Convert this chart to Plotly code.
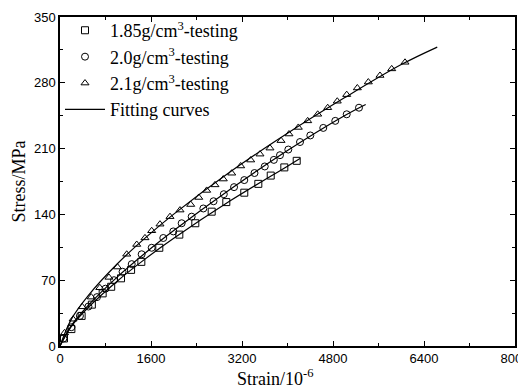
import plotly.graph_objects as go

# Test data (strain in 1e-6, stress in MPa)
sq_strain = [70, 200, 380, 560, 750, 900, 1073, 1250, 1430, 1746, 2098, 2379, 2667, 2924, 3240, 3487, 3705, 3944, 4162]
sq_stress = [8, 18, 32, 44, 56, 63, 72, 81, 89.5, 104.5, 118.5, 130.6, 142.9, 153.1, 163.1, 172.5, 181.3, 190.0, 197.0]

ci_strain = [60, 200, 350, 500, 650, 800, 950, 1100, 1261, 1436, 1612, 1816, 1992, 2139, 2315, 2520, 2700, 2880,
             3060, 3240, 3420, 3600, 3760, 3868, 4014, 4220, 4401, 4629, 4840, 5041, 5257]
ci_stress = [8, 20, 32, 42, 52, 61, 70, 79, 87.1, 97.6, 104.5, 114.9, 121.9, 130.6, 137.6, 146.3, 154, 161.5,
             169, 176.5, 184, 191, 198, 203, 209, 217, 224, 232, 239.5, 246.5, 253.5]

tr_strain = [80, 230, 390, 550, 700, 860, 1010, 1173, 1349, 1494, 1612, 1758, 1934, 2110, 2298, 2440, 2579, 2725,
             2871, 3019, 3177, 3353, 3516, 3692, 3886, 4026, 4190, 4355, 4531, 4707, 4875, 5041, 5228, 5421, 5626,
             5832, 6066]
tr_stress = [14, 28.5, 41.7, 52, 62, 73, 84, 97.6, 108, 115, 122.6, 129.6, 137.6, 144.6, 150.5, 158, 165.5, 171.4,
             177.6, 183.8, 191.5, 197.8, 204.1, 210.5, 218.5, 225.5, 232.5, 239.5, 246.5, 253.5, 260.4, 267.4, 274.5,
             280.8, 287.8, 294.8, 301.8]

# Fitting curves
fit_sq_strain = [0, 200, 500, 1000, 1500, 2000, 3000, 4000, 4220]
fit_sq_stress = [0, 20.9, 41.2, 68.7, 92.7, 114.6, 154.7, 191.3, 199.5]
fit_ci_strain = [0, 200, 500, 1000, 1500, 2000, 3000, 4000, 5000, 5375]
fit_ci_stress = [0, 21.8, 43.4, 73.0, 99.0, 122.8, 167.0, 208.0, 245.0, 257.0]
fit_tr_strain = [0, 200, 500, 1000, 1500, 2000, 3000, 4000, 5000, 6000, 6633]
fit_tr_stress = [0, 28.6, 53.9, 87.0, 115.0, 140.3, 185.6, 226.3, 264.0, 299.4, 318.0]

x_ticks = [0, 1600, 3200, 4800, 6400, 8000]
y_ticks = [0, 70, 140, 210, 280, 350]

labels = ["1.85g/cm<sup>3</sup>-testing", "2.0g/cm<sup>3</sup>-testing", "2.1g/cm<sup>3</sup>-testing"]

fig = go.Figure()
for xs, ys, sym, name, rank in [(sq_strain, sq_stress, "square-open", labels[0], 1),
                                (ci_strain, ci_stress, "circle-open", labels[1], 2),
                                (tr_strain, tr_stress, "triangle-up-open", labels[2], 3)]:
    fig.add_trace(go.Scatter(x=xs, y=ys, mode="markers", name=name, legendrank=rank,
                             marker=dict(symbol=sym, size=7, color="black", line=dict(width=1))))

for i, (xs, ys) in enumerate([(fit_sq_strain, fit_sq_stress), (fit_ci_strain, fit_ci_stress),
                              (fit_tr_strain, fit_tr_stress)]):
    fig.add_trace(go.Scatter(x=xs, y=ys, mode="lines", name="Fitting curves", legendgroup="fit",
                             showlegend=(i == 0), legendrank=4,
                             line=dict(color="black", width=1.2, shape="spline")))

axis_common = dict(showline=True, linecolor="black", linewidth=1.5, mirror="ticks",
                   ticks="inside", ticklen=5, tickwidth=1, tickcolor="black",
                   showgrid=False, zeroline=False, automargin=False,
                   ticklabeloverflow="allow",
                   tickfont=dict(family="Liberation Sans", size=13, color="black"),
                   minor=dict(ticks="inside", ticklen=3, tickwidth=1, tickcolor="black"))

fig.update_xaxes(range=[0, 8000], tickvals=x_ticks, ticktext=[str(v) for v in x_ticks],
                 minor_dtick=800, minor_tick0=0, **axis_common)
fig.update_yaxes(range=[0, 350], tickvals=y_ticks, ticktext=[str(v) for v in y_ticks],
                 minor_dtick=35, minor_tick0=0,
                 title=dict(text="Stress/MPa", standoff=4,
                            font=dict(family="Liberation Serif", size=18, color="black")),
                 **axis_common)

# x-axis title placed slightly left of centre, as in the reference
fig.add_annotation(text="Strain/10<sup>-6</sup>", xref="paper", yref="paper", x=0.473, y=0,
                   yshift=-18, xanchor="center", yanchor="top", showarrow=False,
                   font=dict(family="Liberation Serif", size=18, color="black"))

# page body has an 8px default margin; size figure so the plot area lands where the reference has it
fig.update_layout(
    width=518, height=382,
    margin=dict(l=52, r=11, t=4, b=44),
    plot_bgcolor="white", paper_bgcolor="white",
    legend=dict(x=0.0, y=1.015, xanchor="left", yanchor="top", bgcolor="rgba(0,0,0,0)",
                font=dict(family="Liberation Serif", size=18, color="black"),
                itemwidth=40, tracegroupgap=0),
    showlegend=True,
)

fig.write_html("out.html")
